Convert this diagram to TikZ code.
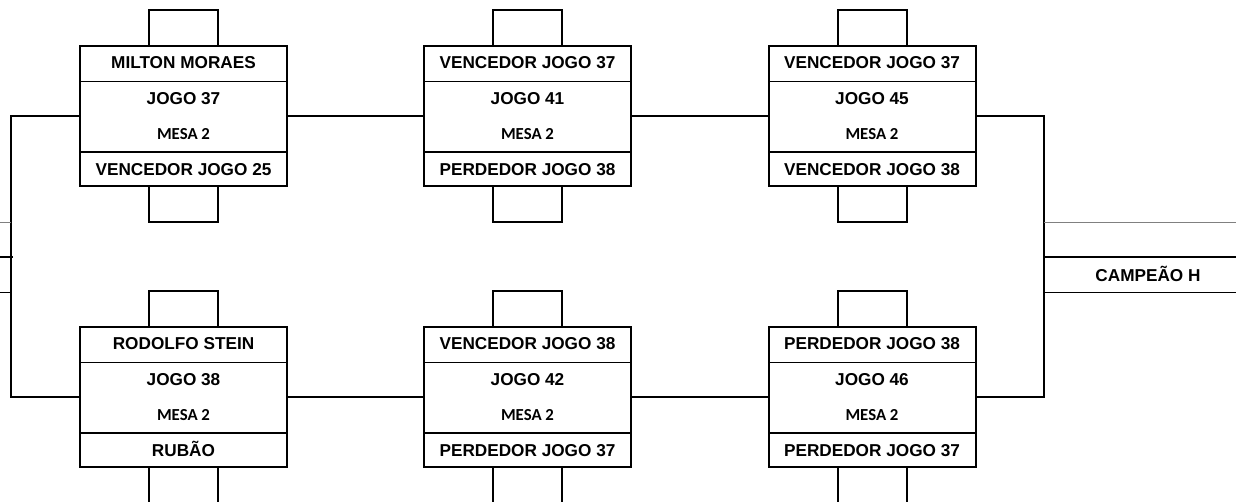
\documentclass[tikz,border=0pt]{standalone}
\usepackage{fontspec}
\setmainfont{Liberation Sans}
\newfontfamily\calfont{Carlito}
\usetikzlibrary{calc}
\tikzset{
  jbox/.style={draw, line width=1.5pt, minimum width=155.25pt, minimum height=105pt, inner sep=0pt, outer sep=0pt},
  divider/.style={line width=0.9pt},
  conn/.style={line width=1.5pt},
  stub/.style={line width=1.5pt},
  celltxt/.style={anchor=base, font=\fontsize{12.9}{15}\selectfont\bfseries, inner sep=0pt},
  mesatxt/.style={anchor=base, font=\calfont\fontsize{12.6}{15}\selectfont\bfseries, inner sep=0pt},
  thinline/.style={line width=0.75pt},
  grayline/.style={line width=0.75pt, draw=black!50},
  thickline/.style={line width=1.5pt},
}
\newcommand{\jogobox}[6]{%
  \node[jbox] (#1) at (#2,#3+70) {};
  \draw[divider] ($(#1.north west)+(0,35.5)$) -- ($(#1.north east)+(0,35.5)$);
  \draw[divider] ($(#1.north west)+(0,106)$) -- ($(#1.north east)+(0,106)$);
  \draw[stub] ($(#1.north)+(-34.5,0)$) -- ++(0,-36) -- ++(69,0) -- ++(0,36);
  \draw[stub] ($(#1.south)+(-34.5,0)$) -- ++(0,36) -- ++(69,0) -- ++(0,-36);
  \node[celltxt] (#1-a) at ($(#1.north)+(0,22.5)$) {#4};
  \node[celltxt] (#1-b) at ($(#1.north)+(0,58.5)$) {#5};
  \node[mesatxt] (#1-c) at ($(#1.north)+(0,93)$) {MESA 2};
  \node[celltxt] (#1-d) at ($(#1.north)+(0,129)$) {#6};
}
\begin{document}
\begin{tikzpicture}[x=0.75pt,y=-0.75pt]
\fill[white] (0,0) rectangle (1236,501);
\useasboundingbox (0,0) rectangle (1236,501);
\jogobox{m1}{183.5}{46}{MILTON MORAES}{JOGO 37}{VENCEDOR JOGO 25}
\jogobox{m2}{527.5}{46}{VENCEDOR JOGO 37}{JOGO 41}{PERDEDOR JOGO 38}
\jogobox{m3}{872}{46}{VENCEDOR JOGO 37}{JOGO 45}{VENCEDOR JOGO 38}
\jogobox{m4}{183.5}{327}{RODOLFO STEIN}{JOGO 38}{RUBÃO}
\jogobox{m5}{527.5}{327}{VENCEDOR JOGO 38}{JOGO 42}{PERDEDOR JOGO 37}
\jogobox{m6}{872}{327}{PERDEDOR JOGO 38}{JOGO 46}{PERDEDOR JOGO 37}
% connectors
\draw[conn] (m1.east) -- (m2.west);
\draw[conn] (m2.east) -- (m3.west);
\draw[conn] (m4.east) -- (m5.west);
\draw[conn] (m5.east) -- (m6.west);
\coordinate (lx) at (11,0);
\coordinate (rx) at (1044,0);
\draw[conn] (m1.west) -- (m1.west -| lx) -- (m4.west -| lx) -- (m4.west);
\draw[conn] (m3.east) -- (m3.east -| rx) -- (m6.east -| rx) -- (m6.east);
% left side lines
\coordinate (la) at (0,222); \coordinate (lb) at (0,257); \coordinate (lc) at (0,292);
\draw[grayline] (la) -- (la -| lx);
\draw[thickline] (lb) -- ($(lb -| lx)+(2,0)$);
\draw[thinline] (lc) -- (lc -| lx);
% right side lines
\coordinate (ra) at (1236,222); \coordinate (rb) at (1236,257); \coordinate (rc) at (1236,292);
\draw[grayline] (ra -| rx) -- (ra);
\draw[thickline] (rb -| rx) -- (rb);
\draw[thinline] (rc -| rx) -- (rc);
\node[celltxt] (champ) at (1148,281) {CAMPEÃO H};
\end{tikzpicture}
\end{document}
